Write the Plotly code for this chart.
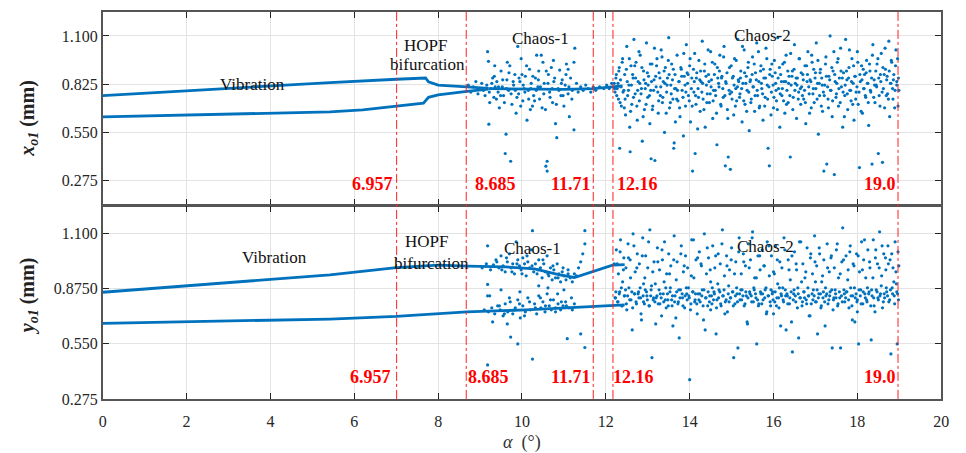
import plotly.graph_objects as go

# ---------------- data ----------------
# top panel (x_o1) periodic branches
top_upper_x = [0, 2, 4, 5.42, 7.0, 7.7, 7.77, 8.0, 8.685, 9.2]
top_upper_y = [0.760, 0.788, 0.815, 0.834, 0.853, 0.860, 0.838, 0.820, 0.810, 0.801]
top_lower_x = [0, 2, 4, 5.42, 6.2, 7.0, 7.65, 7.77, 8.0, 8.685, 9.2]
top_lower_y = [0.639, 0.648, 0.658, 0.667, 0.679, 0.698, 0.717, 0.750, 0.764, 0.784, 0.797]
top_mid_x = [9.2, 10.0, 11.0, 11.7, 12.16, 12.4]
top_mid_y = [0.800, 0.797, 0.795, 0.800, 0.812, 0.815]

# bottom panel (y_o1) periodic branches
bot_upper_x = [0, 2, 4, 5.42, 7.0, 8.0, 8.685, 9.6, 10.3, 10.9, 11.25, 11.71, 12.16, 12.45]
bot_upper_y = [0.808, 0.840, 0.872, 0.895, 0.931, 0.944, 0.939, 0.935, 0.925, 0.895, 0.882, 0.915, 0.944, 0.946]
bot_lower_x = [0, 2, 4, 5.42, 7.0, 8.685, 10.1, 11.25, 12.16, 12.45]
bot_lower_y = [0.653, 0.660, 0.667, 0.674, 0.687, 0.710, 0.720, 0.732, 0.743, 0.745]

# top panel Chaos-1 scatter
top_c1_x = [8.72, 8.78, 8.84, 8.90, 8.95, 9.00, 9.04, 9.08, 9.12, 9.16,
            9.18, 9.20, 9.21, 9.23, 9.26, 9.30, 9.33, 9.36, 9.40, 9.43,
            9.46, 9.50, 9.53, 9.56, 9.60, 9.62, 9.64, 9.68, 9.71, 9.73,
            9.76, 9.80, 9.83, 9.86, 9.90, 9.92, 9.95, 9.98, 10.02, 10.05,
            10.08, 10.12, 10.15, 10.18, 10.22, 10.25, 10.28, 10.32, 10.35, 10.38,
            10.42, 10.46, 10.50, 10.53, 10.56, 10.57, 10.60, 10.60, 10.63, 10.66,
            10.70, 10.73, 10.76, 10.80, 10.83, 10.86, 10.90, 10.93, 10.96, 11.00,
            11.03, 11.06, 11.10, 11.13, 11.16, 11.20, 11.24, 11.24, 11.26, 11.30,
            11.34, 11.40, 11.46, 11.52, 11.58, 11.64, 11.70, 11.76, 11.85, 11.95,
            12.02, 12.08, 12.14, 9.35, 9.65, 10.00, 10.40, 10.75, 11.10, 10.20,
            9.22, 9.28, 9.34, 9.39, 9.44, 9.49, 9.54, 9.58, 9.63, 9.69,
            9.74, 9.79, 9.84, 9.88, 9.93, 9.97, 10.03, 10.07, 10.11, 10.16,
            10.21, 10.26, 10.30, 10.34, 10.39, 10.44, 10.48, 10.52, 10.58, 10.62,
            10.67, 10.72, 10.78, 10.82, 10.88, 10.94, 10.98, 11.05, 11.12, 11.19]
top_c1_y = [0.82, 0.78, 0.81, 0.84, 0.77, 0.80, 0.83, 0.79, 0.76, 0.82,
            1.01, 0.955, 0.597, 0.72, 0.80, 0.86, 0.75, 0.81, 0.84, 0.78,
            0.69, 0.90, 0.81, 0.76, 0.43, 0.54, 0.85, 0.79, 0.93, 0.386,
            0.71, 0.82, 0.88, 0.66, 1.04, 0.77, 0.84, 0.97, 0.73, 0.80,
            0.87, 0.62, 0.79, 0.91, 0.83, 0.70, 0.76, 0.86, 0.99, 0.81,
            0.74, 0.99, 0.95, 0.83, 0.68, 0.358, 0.386, 0.33, 0.88, 0.78,
            0.92, 0.72, 0.84, 0.60, 0.52, 0.80, 0.905, 0.76, 0.85, 0.70,
            0.82, 0.94, 0.77, 0.64, 0.86, 0.79, 0.565, 0.95, 1.03, 0.83,
            0.78, 0.81, 0.79, 0.82, 0.80, 0.78, 0.81, 0.79, 0.81, 0.80,
            0.82, 0.80, 0.83, 0.93, 0.95, 0.88, 0.90, 0.96, 0.91, 0.68,
            0.78, 0.83, 0.87, 0.74, 0.81, 0.76, 0.85, 0.72, 0.80, 0.89,
            0.77, 0.84, 0.79, 0.75, 0.86, 0.70, 0.82, 0.78, 0.93, 0.74,
            0.80, 0.87, 0.73, 0.79, 0.85, 0.81, 0.69, 0.77, 0.90, 0.83,
            0.75, 0.80, 0.86, 0.71, 0.79, 0.83, 0.76, 0.88, 0.81, 0.74]

# top panel Chaos-2 scatter
top_c2_x = [12.20, 12.22, 12.25, 12.27, 12.30, 12.32, 12.35, 12.37, 12.40, 12.43,
            12.45, 12.47, 12.50, 12.52, 12.55, 12.57, 12.60, 12.62, 12.65, 12.67,
            12.70, 12.72, 12.75, 12.77, 12.80, 12.82, 12.85, 12.87, 12.90, 12.92,
            12.95, 12.97, 13.00, 13.02, 13.05, 13.07, 13.10, 13.12, 13.15, 13.17,
            13.20, 13.22, 13.25, 13.27, 13.30, 13.32, 13.35, 13.37, 13.40, 13.42,
            13.45, 13.47, 13.50, 13.52, 13.55, 13.57, 13.60, 13.62, 13.65, 13.67,
            13.70, 13.72, 13.75, 13.77, 13.80, 13.82, 13.85, 13.87, 13.90, 13.92,
            13.95, 13.97, 14.00, 14.02, 14.05, 14.07, 14.10, 14.12, 14.15, 14.17,
            14.20, 14.22, 14.25, 14.27, 14.30, 14.32, 14.35, 14.37, 14.40, 14.42,
            14.45, 14.47, 14.50, 14.52, 14.55, 14.57, 14.60, 14.62, 14.65, 14.67,
            14.70, 14.72, 14.75, 14.77, 14.80, 14.82, 14.85, 14.87, 14.90, 14.92,
            14.95, 14.97, 15.00, 15.02, 15.05, 15.07, 15.10, 15.12, 15.15, 15.17,
            15.20, 15.22, 15.25, 15.27, 15.30, 15.32, 15.35, 15.37, 15.40, 15.42,
            15.45, 15.47, 15.50, 15.52, 15.55, 15.57, 15.60, 15.62, 15.65, 15.67,
            15.70, 15.72, 15.75, 15.77, 15.80, 15.82, 15.85, 15.87, 15.90, 15.92,
            15.95, 15.97, 16.00, 16.02, 16.05, 16.07, 16.10, 16.12, 16.15, 16.17,
            16.20, 16.22, 16.25, 16.27, 16.30, 16.32, 16.35, 16.37, 16.40, 16.42,
            16.45, 16.47, 16.50, 16.52, 16.55, 16.57, 16.60, 16.62, 16.65, 16.67,
            16.70, 16.72, 16.75, 16.77, 16.80, 16.82, 16.85, 16.87, 16.90, 16.92,
            16.95, 16.97, 17.00, 17.02, 17.05, 17.07, 17.10, 17.12, 17.15, 17.17,
            17.20, 17.22, 17.25, 17.27, 17.30, 17.32, 17.35, 17.37, 17.40, 17.42,
            17.45, 17.47, 17.50, 17.52, 17.55, 17.57, 17.60, 17.62, 17.65, 17.67,
            17.70, 17.72, 17.75, 17.77, 17.80, 17.82, 17.85, 17.87, 17.90, 17.92,
            17.95, 17.97, 18.00, 18.02, 18.05, 18.07, 18.10, 18.12, 18.15, 18.17,
            18.20, 18.22, 18.25, 18.27, 18.30, 18.32, 18.35, 18.37, 18.40, 18.42,
            18.45, 18.47, 18.50, 18.52, 18.55, 18.57, 18.60, 18.62, 18.65, 18.67,
            18.70, 18.72, 18.75, 18.77, 18.80, 18.82, 18.85, 18.87, 18.90, 18.92,
            18.94, 18.96, 18.97, 18.98, 18.99, 12.33, 12.58, 13.08, 13.63, 14.13]
top_c2_y = [0.83, 0.78, 0.88, 0.80, 0.74, 0.92, 0.85, 0.70, 0.97, 0.79,
            0.88, 0.65, 1.04, 0.76, 0.82, 0.58, 0.93, 0.71, 0.86, 1.08,
            0.77, 0.95, 0.62, 0.84, 0.73, 0.99, 0.80, 0.50, 0.90, 0.68,
            0.83, 1.06, 0.75, 0.87, 0.60, 0.79, 0.94, 0.70, 0.85, 0.39,
            0.81, 0.97, 0.66, 0.89, 0.76, 1.02, 0.72, 0.84, 0.55, 0.92,
            0.78, 0.86, 1.09, 0.69, 0.82, 0.94, 0.74, 0.46, 0.88, 0.80,
            0.99, 0.73, 0.84, 0.64, 0.91, 0.79, 0.53, 0.87, 0.70, 1.05,
            0.83, 0.76, 0.93, 0.61, 0.86, 0.33, 0.78, 1.00, 0.71, 0.89,
            0.80, 0.96, 0.67, 0.84, 1.07, 0.74, 0.90, 0.58, 0.82, 0.77,
            0.88, 0.72, 1.01, 0.85, 0.63, 0.79, 0.94, 0.76, 0.48, 0.86,
            0.81, 0.99, 0.70, 0.87, 0.75, 1.04, 0.36, 0.83, 0.68, 0.41,
            0.92, 0.34, 0.78, 0.86, 0.65, 0.97, 0.80, 0.73, 1.08, 0.84,
            0.77, 0.90, 0.61, 0.83, 1.02, 0.71, 0.87, 0.79, 0.95, 0.56,
            0.85, 0.74, 0.98, 0.81, 0.67, 0.89, 1.06, 0.76, 0.84, 0.70,
            0.93, 0.80, 0.62, 0.86, 0.75, 1.03, 0.82, 0.46, 0.36, 0.91,
            0.78, 0.87, 0.69, 0.96, 0.83, 0.73, 1.09, 0.80, 0.58, 0.88,
            0.76, 0.94, 0.84, 0.66, 0.99, 0.79, 0.72, 0.87, 0.41, 0.82,
            0.90, 0.75, 1.05, 0.83, 0.63, 0.86, 0.78, 0.97, 0.71, 0.81,
            0.88, 0.74, 0.93, 0.60, 0.84, 1.01, 0.77, 0.85, 0.69, 0.95,
            0.80, 0.72, 0.89, 1.06, 0.83, 0.54, 0.76, 0.91, 0.86, 0.67,
            0.33, 0.82, 0.98, 0.37, 0.74, 0.87, 1.10, 0.79, 0.64, 0.90,
            0.31, 0.84, 0.77, 0.95, 0.70, 0.86, 1.03, 0.81, 0.58, 0.89,
            0.76, 1.08, 0.85, 0.68, 0.92, 0.79, 0.73, 0.97, 0.83, 0.62,
            0.87, 0.78, 1.01, 0.71, 0.35, 0.84, 0.93, 0.66, 0.80, 0.88,
            0.75, 0.96, 0.83, 0.59, 0.90, 0.78, 0.37, 1.05, 0.85, 0.72,
            0.82, 0.94, 0.43, 0.76, 0.88, 1.00, 0.38, 0.80, 0.69, 0.91,
            0.85, 0.77, 1.07, 0.64, 0.83, 0.95, 0.74, 0.88, 0.79, 1.02,
            0.84, 0.97, 0.70, 0.86, 0.79, 0.46, 0.44, 0.40, 0.49, 0.43]

# top panel Chaos-2, dense core points
top_c2b_x = [12.21, 12.24, 12.26, 12.29, 12.31, 12.34, 12.36, 12.39, 12.41, 12.44,
             12.46, 12.49, 12.51, 12.54, 12.56, 12.59, 12.61, 12.64, 12.66, 12.69,
             12.71, 12.74, 12.76, 12.79, 12.81, 12.84, 12.86, 12.89, 12.91, 12.94,
             12.96, 12.99, 13.01, 13.04, 13.06, 13.09, 13.11, 13.14, 13.16, 13.19,
             13.21, 13.24, 13.26, 13.29, 13.31, 13.34, 13.36, 13.39, 13.41, 13.44,
             13.46, 13.49, 13.51, 13.54, 13.56, 13.59, 13.61, 13.64, 13.66, 13.69,
             13.71, 13.74, 13.76, 13.79, 13.81, 13.84, 13.86, 13.89, 13.91, 13.94,
             13.96, 13.99, 14.01, 14.04, 14.06, 14.09, 14.11, 14.14, 14.16, 14.19,
             14.21, 14.24, 14.26, 14.29, 14.31, 14.34, 14.36, 14.39, 14.41, 14.44,
             14.46, 14.49, 14.51, 14.54, 14.56, 14.59, 14.61, 14.64, 14.66, 14.69,
             14.71, 14.74, 14.76, 14.79, 14.81, 14.84, 14.86, 14.89, 14.91, 14.94,
             14.96, 14.99, 15.01, 15.04, 15.06, 15.09, 15.11, 15.14, 15.16, 15.19,
             15.21, 15.24, 15.26, 15.29, 15.31, 15.34, 15.36, 15.39, 15.41, 15.44,
             15.46, 15.49, 15.51, 15.54, 15.56, 15.59, 15.61, 15.64, 15.66, 15.69,
             15.71, 15.74, 15.76, 15.79, 15.81, 15.84, 15.86, 15.89, 15.91, 15.94,
             15.96, 15.99, 16.01, 16.04, 16.06, 16.09, 16.11, 16.14, 16.16, 16.19,
             16.21, 16.24, 16.26, 16.29, 16.31, 16.34, 16.36, 16.39, 16.41, 16.44,
             16.46, 16.49, 16.51, 16.54, 16.56, 16.59, 16.61, 16.64, 16.66, 16.69,
             16.71, 16.74, 16.76, 16.79, 16.81, 16.84, 16.86, 16.89, 16.91, 16.94,
             16.96, 16.99, 17.01, 17.04, 17.06, 17.09, 17.11, 17.14, 17.16, 17.19,
             17.21, 17.24, 17.26, 17.29, 17.31, 17.34, 17.36, 17.39, 17.41, 17.44,
             17.46, 17.49, 17.51, 17.54, 17.56, 17.59, 17.61, 17.64, 17.66, 17.69,
             17.71, 17.74, 17.76, 17.79, 17.81, 17.84, 17.86, 17.89, 17.91, 17.94,
             17.96, 17.99, 18.01, 18.04, 18.06, 18.09, 18.11, 18.14, 18.16, 18.19,
             18.21, 18.24, 18.26, 18.29, 18.31, 18.34, 18.36, 18.39, 18.41, 18.44,
             18.46, 18.49, 18.51, 18.54, 18.56, 18.59, 18.61, 18.64, 18.66, 18.69,
             18.71, 18.74, 18.76, 18.79, 18.81, 18.84, 18.86, 18.89, 18.91, 18.94]
top_c2b_y = [0.80, 0.86, 0.76, 0.83, 0.90, 0.72, 0.81, 0.95, 0.78, 0.69,
             0.74, 0.91, 0.84, 0.79, 0.97, 0.67, 0.82, 0.88, 0.75, 0.93,
             0.86, 0.70, 0.79, 1.01, 0.83, 0.77, 0.92, 0.64, 0.85, 0.80,
             0.71, 0.89, 0.82, 0.76, 0.94, 0.84, 0.68, 0.79, 1.03, 0.87,
             0.93, 0.78, 0.73, 0.86, 0.81, 0.98, 0.75, 0.90, 0.83, 0.66,
             0.82, 0.96, 0.88, 0.72, 0.77, 0.85, 0.91, 0.80, 0.61, 0.74,
             0.79, 0.84, 0.69, 0.92, 0.87, 0.75, 1.00, 0.82, 0.78, 0.89,
             0.88, 0.73, 0.97, 0.80, 0.70, 0.91, 0.84, 0.76, 0.86, 0.57,
             0.75, 0.85, 0.90, 0.78, 0.83, 0.68, 0.94, 0.87, 0.72, 1.02,
             0.84, 0.77, 0.81, 0.95, 0.73, 0.88, 0.79, 0.66, 0.92, 0.83,
             0.90, 0.71, 0.86, 0.80, 0.98, 0.76, 0.84, 0.89, 0.63, 0.79,
             0.77, 0.93, 0.74, 0.87, 0.82, 0.70, 0.96, 0.81, 0.85, 0.75,
             0.86, 0.80, 1.04, 0.73, 0.89, 0.83, 0.67, 0.92, 0.78, 0.84,
             0.72, 0.88, 0.81, 0.94, 0.76, 0.85, 0.79, 1.01, 0.69, 0.90,
             0.83, 0.77, 0.91, 0.70, 0.86, 0.97, 0.74, 0.81, 0.88, 0.65,
             0.94, 0.82, 0.75, 0.89, 0.79, 0.68, 0.86, 0.92, 0.77, 0.84,
             0.80, 0.73, 0.95, 0.84, 0.71, 0.90, 0.83, 0.76, 1.00, 0.87,
             0.68, 0.91, 0.79, 0.86, 0.82, 0.74, 0.97, 0.80, 0.89, 0.76,
             0.85, 0.79, 0.72, 0.93, 0.88, 0.81, 0.66, 0.84, 0.99, 0.77,
             0.91, 0.86, 0.80, 0.74, 0.96, 0.83, 0.89, 0.70, 0.82, 0.78,
             0.76, 0.94, 0.87, 0.81, 0.69, 0.85, 0.79, 0.92, 0.73, 1.01,
             0.88, 0.75, 0.83, 0.97, 0.80, 0.72, 0.90, 0.86, 0.78, 0.64,
             0.82, 0.90, 0.77, 0.86, 1.02, 0.79, 0.84, 0.71, 0.93, 0.87,
             0.74, 0.81, 0.95, 0.78, 0.88, 0.67, 0.85, 0.91, 0.80, 0.76,
             0.89, 0.83, 0.72, 0.94, 0.79, 0.86, 0.99, 0.75, 0.82, 0.90,
             0.81, 0.97, 0.86, 0.70, 0.84, 0.78, 0.92, 0.88, 1.03, 0.76,
             0.87, 0.74, 0.90, 0.83, 0.96, 0.80, 0.85, 0.69, 0.93, 0.82]

# bottom panel Chaos-1 scatter
bot_c1_x = [9.05, 9.15, 9.18, 9.18, 9.18, 9.25, 9.32, 9.38, 9.45, 9.50,
            9.55, 9.60, 9.65, 9.70, 9.74, 9.78, 9.82, 9.86, 9.90, 9.94,
            9.98, 10.02, 10.06, 10.10, 10.14, 10.18, 10.22, 10.25, 10.28, 10.32,
            10.36, 10.40, 10.44, 10.48, 10.52, 10.56, 10.60, 10.64, 10.68, 10.72,
            10.76, 10.80, 10.84, 10.88, 10.92, 10.96, 11.00, 11.05, 11.10, 11.15,
            11.20, 11.25, 11.30, 11.35, 11.40, 11.45, 11.50, 11.50, 9.73, 9.90,
            9.10, 9.20, 9.28, 9.35, 9.42, 9.48, 9.55, 9.60, 9.66, 9.72,
            9.78, 9.84, 9.90, 9.96, 10.02, 10.08, 10.14, 10.20, 10.25, 10.30,
            10.35, 10.40, 10.45, 10.50, 10.55, 10.60, 10.65, 10.70, 10.75, 10.80,
            10.86, 10.92, 10.98, 11.04, 11.08, 11.12, 11.18, 11.25, 11.40, 11.50,
            9.23, 9.30, 9.50, 9.95, 10.40, 10.62, 10.85, 11.00, 9.18, 9.65,
            9.40, 9.52, 9.63, 9.76, 9.88, 10.00, 10.12, 10.24, 10.38, 10.50,
            10.62, 10.74, 10.86, 10.98, 11.10, 9.46, 9.58, 9.70, 9.82, 9.94,
            10.06, 10.18, 10.32, 10.44, 10.56, 10.68, 10.80, 10.94, 11.06, 11.20]
bot_c1_y = [0.93, 0.95, 1.04, 0.847, 0.445, 0.92, 0.945, 0.97, 0.93, 0.99,
            0.94, 0.91, 0.96, 1.00, 0.93, 0.95, 0.90, 1.06, 0.97, 0.94,
            0.92, 0.98, 0.95, 0.89, 0.96, 0.93, 1.02, 1.116, 0.91, 0.95,
            0.90, 0.97, 0.93, 0.88, 0.95, 0.91, 0.99, 0.89, 0.93, 0.87,
            0.92, 0.88, 0.95, 0.90, 0.86, 0.91, 0.89, 0.87, 0.92, 0.88,
            0.86, 0.90, 0.89, 0.93, 0.96, 1.00, 1.116, 1.05, 0.584, 0.55,
            0.72, 0.71, 0.73, 0.70, 0.74, 0.72, 0.69, 0.75, 0.71, 0.76,
            0.70, 0.73, 0.77, 0.68, 0.74, 0.71, 0.78, 0.72, 0.474, 0.75,
            0.70, 0.79, 0.73, 0.76, 0.71, 0.80, 0.74, 0.72, 0.77, 0.73,
            0.75, 0.72, 0.74, 0.76, 0.576, 0.73, 0.78, 0.75, 0.60, 0.532,
            0.79, 0.66, 0.82, 0.81, 0.84, 0.83, 0.80, 0.82, 0.79, 0.65,
            0.96, 0.92, 0.98, 0.91, 0.95, 0.90, 0.99, 0.94, 0.92, 0.97,
            0.90, 0.94, 0.88, 0.93, 0.90, 0.74, 0.70, 0.78, 0.72, 0.75,
            0.69, 0.76, 0.73, 0.78, 0.74, 0.77, 0.71, 0.76, 0.74, 0.72]

# bottom panel Chaos-2 scatter
bot_c2_x = [12.20, 12.23, 12.25, 12.28, 12.30, 12.33, 12.35, 12.38, 12.40, 12.43,
            12.45, 12.48, 12.50, 12.53, 12.55, 12.58, 12.60, 12.63, 12.65, 12.68,
            12.70, 12.73, 12.75, 12.78, 12.80, 12.83, 12.85, 12.88, 12.90, 12.93,
            12.95, 12.98, 13.00, 13.03, 13.05, 13.08, 13.10, 13.13, 13.15, 13.18,
            13.20, 13.23, 13.25, 13.28, 13.30, 13.33, 13.35, 13.38, 13.40, 13.43,
            13.45, 13.48, 13.50, 13.53, 13.55, 13.58, 13.60, 13.63, 13.65, 13.68,
            13.70, 13.73, 13.75, 13.78, 13.80, 13.83, 13.85, 13.88, 13.90, 13.93,
            13.95, 13.98, 14.00, 14.03, 14.05, 14.08, 14.10, 14.13, 14.15, 14.18,
            14.20, 14.23, 14.25, 14.28, 14.30, 14.33, 14.35, 14.38, 14.40, 14.43,
            14.45, 14.48, 14.50, 14.53, 14.55, 14.58, 14.60, 14.63, 14.65, 14.68,
            14.70, 14.73, 14.75, 14.78, 14.80, 14.83, 14.85, 14.88, 14.90, 14.93,
            14.95, 14.98, 15.00, 15.03, 15.05, 15.08, 15.10, 15.13, 15.15, 15.18,
            15.20, 15.23, 15.25, 15.28, 15.30, 15.33, 15.35, 15.38, 15.40, 15.43,
            15.45, 15.48, 15.50, 15.53, 15.55, 15.58, 15.60, 15.63, 15.65, 15.68,
            15.70, 15.73, 15.75, 15.78, 15.80, 15.83, 15.85, 15.88, 15.90, 15.93,
            15.95, 15.98, 16.00, 16.03, 16.05, 16.08, 16.10, 16.13, 16.15, 16.18,
            16.20, 16.23, 16.25, 16.28, 16.30, 16.33, 16.35, 16.38, 16.40, 16.43,
            16.45, 16.48, 16.50, 16.53, 16.55, 16.58, 16.60, 16.63, 16.65, 16.68,
            16.70, 16.73, 16.75, 16.78, 16.80, 16.83, 16.85, 16.88, 16.90, 16.93,
            16.95, 16.98, 17.00, 17.03, 17.05, 17.08, 17.10, 17.13, 17.15, 17.18,
            17.20, 17.23, 17.25, 17.28, 17.30, 17.33, 17.35, 17.38, 17.40, 17.43,
            17.45, 17.48, 17.50, 17.53, 17.55, 17.58, 17.60, 17.63, 17.65, 17.68,
            17.70, 17.73, 17.75, 17.78, 17.80, 17.83, 17.85, 17.88, 17.90, 17.93,
            17.95, 17.98, 18.00, 18.03, 18.05, 18.08, 18.10, 18.13, 18.15, 18.18,
            18.20, 18.23, 18.25, 18.28, 18.30, 18.33, 18.35, 18.38, 18.40, 18.43,
            18.45, 18.48, 18.50, 18.53, 18.55, 18.58, 18.60, 18.63, 18.65, 18.68,
            18.70, 18.73, 18.75, 18.78, 18.80, 18.83, 18.85, 18.88, 18.90, 18.93,
            18.95, 18.96, 18.97, 18.98, 18.99, 12.90, 14.50, 16.00, 17.00, 18.00]
bot_c2_y = [0.95, 0.78, 1.02, 0.76, 0.90, 0.81, 1.07, 0.74, 0.86, 0.98,
            0.79, 0.93, 0.72, 1.05, 0.83, 0.97, 0.77, 0.62, 1.10, 0.80,
            0.91, 0.75, 1.00, 0.81, 0.95, 0.78, 0.67, 1.08, 0.76, 0.88,
            0.99, 0.79, 0.93, 0.74, 1.12, 0.82, 0.481, 0.77, 0.96, 0.85,
            0.78, 1.03, 0.75, 0.92, 0.80, 0.69, 0.97, 0.76, 1.06, 0.83,
            0.90, 0.77, 1.00, 0.81, 0.94, 0.74, 0.64, 1.09, 0.79, 0.87,
            0.96, 0.76, 0.58, 0.82, 1.04, 0.78, 0.91, 0.73, 0.99, 0.80,
            0.93, 0.79, 0.371, 0.75, 1.07, 0.81, 0.88, 0.77, 0.97, 0.70,
            0.80, 1.01, 0.76, 0.94, 0.82, 0.67, 1.10, 0.78, 0.90, 0.74,
            0.98, 0.79, 0.86, 0.75, 1.04, 0.81, 0.93, 0.60, 0.77, 1.00,
            0.82, 0.95, 0.74, 1.12, 0.79, 0.89, 0.76, 0.99, 0.71, 0.84,
            0.92, 0.78, 1.03, 0.81, 0.481, 0.75, 0.96, 0.80, 0.53, 1.08,
            0.77, 0.90, 0.82, 1.00, 0.74, 0.94, 0.79, 0.65, 1.05, 0.81,
            0.97, 0.76, 1.11, 0.83, 0.88, 0.78, 0.55, 0.99, 0.75, 0.92,
            0.80, 1.02, 0.77, 0.94, 0.82, 0.70, 1.06, 0.79, 0.89, 0.74,
            0.99, 0.81, 0.91, 0.76, 1.04, 0.78, 0.85, 0.73, 0.96, 0.80,
            0.93, 0.77, 1.08, 0.82, 0.62, 0.79, 0.97, 0.75, 0.87, 0.66,
            0.51, 0.80, 1.01, 0.76, 0.92, 0.83, 0.58, 0.78, 1.06, 0.74,
            0.95, 0.81, 0.88, 0.77, 1.03, 0.79, 0.69, 0.98, 0.75, 0.90,
            0.82, 1.09, 0.76, 0.94, 0.60, 0.80, 1.00, 0.73, 0.86, 0.78,
            0.97, 0.64, 0.79, 1.05, 0.75, 0.91, 0.81, 0.99, 0.53, 0.77,
            0.93, 0.80, 1.02, 0.74, 0.88, 0.78, 0.53, 0.96, 1.13, 0.82,
            0.76, 0.99, 0.81, 0.92, 0.73, 1.04, 0.79, 0.67, 0.95, 0.83,
            0.78, 1.00, 0.77, 0.55, 0.91, 0.82, 1.06, 0.75, 0.97, 0.80,
            0.88, 0.76, 1.02, 0.81, 0.93, 0.57, 0.79, 1.07, 0.74, 0.98,
            0.82, 0.95, 0.77, 1.11, 0.80, 0.89, 0.73, 1.00, 0.78, 0.92,
            0.81, 1.04, 0.76, 0.97, 0.50, 0.83, 0.93, 0.79, 1.06, 0.85,
            0.55, 0.80, 1.01, 0.77, 0.94, 0.85, 0.72, 0.70, 0.86, 0.71]

# bottom panel Chaos-2, dense band points
bot_c2b_x = [12.22, 12.24, 12.27, 12.29, 12.32, 12.34, 12.37, 12.39, 12.42, 12.44,
             12.47, 12.49, 12.52, 12.54, 12.57, 12.59, 12.62, 12.64, 12.67, 12.69,
             12.72, 12.74, 12.77, 12.79, 12.82, 12.84, 12.87, 12.89, 12.92, 12.94,
             12.97, 12.99, 13.02, 13.04, 13.07, 13.09, 13.12, 13.14, 13.17, 13.19,
             13.22, 13.24, 13.27, 13.29, 13.32, 13.34, 13.37, 13.39, 13.42, 13.44,
             13.47, 13.49, 13.52, 13.54, 13.57, 13.59, 13.62, 13.64, 13.67, 13.69,
             13.72, 13.74, 13.77, 13.79, 13.82, 13.84, 13.87, 13.89, 13.92, 13.94,
             13.97, 13.99, 14.02, 14.04, 14.07, 14.09, 14.12, 14.14, 14.17, 14.19,
             14.22, 14.24, 14.27, 14.29, 14.32, 14.34, 14.37, 14.39, 14.42, 14.44,
             14.47, 14.49, 14.52, 14.54, 14.57, 14.59, 14.62, 14.64, 14.67, 14.69,
             14.72, 14.74, 14.77, 14.79, 14.82, 14.84, 14.87, 14.89, 14.92, 14.94,
             14.97, 14.99, 15.02, 15.04, 15.07, 15.09, 15.12, 15.14, 15.17, 15.19,
             15.22, 15.24, 15.27, 15.29, 15.32, 15.34, 15.37, 15.39, 15.42, 15.44,
             15.47, 15.49, 15.52, 15.54, 15.57, 15.59, 15.62, 15.64, 15.67, 15.69,
             15.72, 15.74, 15.77, 15.79, 15.82, 15.84, 15.87, 15.89, 15.92, 15.94,
             15.97, 15.99, 16.02, 16.04, 16.07, 16.09, 16.12, 16.14, 16.17, 16.19,
             16.22, 16.24, 16.27, 16.29, 16.32, 16.34, 16.37, 16.39, 16.42, 16.44,
             16.47, 16.49, 16.52, 16.54, 16.57, 16.59, 16.62, 16.64, 16.67, 16.69,
             16.72, 16.74, 16.77, 16.79, 16.82, 16.84, 16.87, 16.89, 16.92, 16.94,
             16.97, 16.99, 17.02, 17.04, 17.07, 17.09, 17.12, 17.14, 17.17, 17.19,
             17.22, 17.24, 17.27, 17.29, 17.32, 17.34, 17.37, 17.39, 17.42, 17.44,
             17.47, 17.49, 17.52, 17.54, 17.57, 17.59, 17.62, 17.64, 17.67, 17.69,
             17.72, 17.74, 17.77, 17.79, 17.82, 17.84, 17.87, 17.89, 17.92, 17.94,
             17.97, 17.99, 18.02, 18.04, 18.07, 18.09, 18.12, 18.14, 18.17, 18.19,
             18.22, 18.24, 18.27, 18.29, 18.32, 18.34, 18.37, 18.39, 18.42, 18.44,
             18.47, 18.49, 18.52, 18.54, 18.57, 18.59, 18.62, 18.64, 18.67, 18.69,
             18.72, 18.74, 18.77, 18.79, 18.82, 18.84, 18.87, 18.89, 18.92, 18.94]
bot_c2b_y = [0.78, 0.81, 0.95, 0.76, 0.80, 1.01, 0.83, 0.74, 0.92, 0.79,
             0.82, 0.75, 0.79, 0.98, 0.77, 0.88, 0.81, 0.73, 1.04, 0.80,
             0.76, 0.93, 0.80, 0.78, 0.83, 0.70, 0.99, 0.79, 0.75, 0.82,
             0.81, 0.77, 1.06, 0.74, 0.79, 0.84, 0.91, 0.78, 0.76, 0.65,
             0.79, 0.96, 0.82, 0.75, 0.78, 1.02, 0.80, 0.86, 0.77, 0.73,
             0.80, 0.74, 0.90, 0.83, 0.77, 0.79, 0.97, 0.76, 0.68, 0.81,
             0.75, 0.82, 0.78, 1.00, 0.80, 0.74, 0.94, 0.79, 0.83, 0.77,
             0.83, 0.78, 0.72, 0.89, 0.81, 1.07, 0.76, 0.80, 0.75, 0.98,
             0.77, 0.80, 0.95, 0.79, 0.74, 0.82, 0.62, 0.78, 1.03, 0.81,
             0.76, 0.92, 0.79, 0.83, 0.77, 0.80, 0.99, 0.73, 0.85, 0.78,
             0.81, 0.75, 1.05, 0.79, 0.82, 0.70, 0.77, 0.94, 0.80, 0.76,
             0.78, 0.97, 0.81, 0.74, 0.90, 0.79, 0.83, 0.76, 1.01, 0.80,
             0.82, 0.77, 0.79, 0.96, 0.75, 0.81, 0.66, 0.78, 0.93, 0.80,
             0.79, 1.08, 0.76, 0.82, 0.80, 0.88, 0.77, 0.74, 0.99, 0.81,
             0.75, 0.80, 0.94, 0.78, 0.83, 0.71, 0.79, 1.04, 0.76, 0.82,
             0.80, 0.77, 0.90, 0.81, 0.74, 0.97, 0.78, 0.83, 0.64, 0.79,
             0.83, 0.76, 1.02, 0.79, 0.80, 0.75, 0.92, 0.78, 0.81, 0.99,
             0.77, 0.82, 0.79, 0.95, 0.73, 0.80, 1.06, 0.78, 0.86, 0.76,
             0.81, 0.78, 0.91, 0.75, 0.83, 0.79, 0.69, 1.00, 0.80, 0.77,
             0.79, 0.96, 0.76, 0.82, 0.78, 1.03, 0.80, 0.74, 0.89, 0.81,
             0.76, 0.83, 0.80, 0.93, 0.77, 0.79, 0.98, 0.82, 0.72, 0.78,
             0.82, 0.78, 1.05, 0.75, 0.81, 0.90, 0.79, 0.76, 0.97, 0.80,
             0.78, 0.81, 0.87, 0.77, 1.01, 0.83, 0.74, 0.79, 0.94, 0.66,
             0.80, 0.76, 0.99, 0.82, 0.79, 0.75, 0.92, 0.81, 1.07, 0.78,
             0.77, 0.83, 0.80, 0.96, 0.74, 0.82, 0.88, 0.78, 0.71, 1.02,
             0.81, 0.78, 0.93, 0.79, 0.84, 1.04, 0.76, 0.80, 0.98, 0.83,
             0.79, 0.95, 0.77, 0.82, 1.00, 0.80, 0.86, 0.75, 0.91, 0.81]

# critical angles (labels) and positions of the dash-dot markers
crit_labels = ["6.957", "8.685", "11.71", "12.16", "19.0"]
crit_lines = [7.01, 8.67, 11.70, 12.17, 18.97]
crit_text_x_top = [6.43, 9.37, 11.17, 12.75, 18.53]
crit_text_x_bot = [6.39, 9.20, 11.17, 12.67, 18.55]

x_ticks = [0, 2, 4, 6, 8, 10, 12, 14, 16, 18, 20]
y_ticks = [0.275, 0.55, 0.825, 1.1]
y_ticktext_top = ["0.275", "0.550", "0.825", "1.100"]
y_ticktext_bot = ["0.275", "0.550", "0.8750", "1.100"]

# ---------------- figure ----------------
W, H = 966, 453
BLUE = "#0072BD"
SERIF = "Liberation Serif"

fig = go.Figure()

def add_line(x, y, xa, ya):
    fig.add_trace(go.Scatter(x=x, y=y, mode="lines", xaxis=xa, yaxis=ya,
                             line=dict(color=BLUE, width=2.8), hoverinfo="skip",
                             showlegend=False))

def add_pts(x, y, xa, ya):
    fig.add_trace(go.Scatter(x=x, y=y, mode="markers", xaxis=xa, yaxis=ya,
                             marker=dict(color=BLUE, size=3.2, line=dict(width=0)),
                             hoverinfo="skip", showlegend=False))

add_line(top_upper_x, top_upper_y, "x", "y")
add_line(top_lower_x, top_lower_y, "x", "y")
add_line(top_mid_x, top_mid_y, "x", "y")
add_pts(top_c1_x, top_c1_y, "x", "y")
add_pts(top_c2_x, top_c2_y, "x", "y")
add_pts(top_c2b_x, top_c2b_y, "x", "y")

add_line(bot_upper_x, bot_upper_y, "x2", "y2")
add_line(bot_lower_x, bot_lower_y, "x2", "y2")
add_pts(bot_c1_x, bot_c1_y, "x2", "y2")
add_pts(bot_c2_x, bot_c2_y, "x2", "y2")
add_pts(bot_c2b_x, bot_c2b_y, "x2", "y2")

xdom = [100 / W, 949 / W]
ydom_top = [(H - 209) / H, (H - 12) / H]
ydom_bot = [(H - 407) / H, (H - 210.5) / H]

tickfont = dict(family=SERIF, size=16, color="#262626")
common_x = dict(range=[0, 20], tickvals=x_ticks, ticks="inside", ticklen=6,
                tickcolor="#222", showline=True, linecolor="#555", linewidth=1.5,
                mirror="ticks", showgrid=True, gridcolor="#e3e3e3", gridwidth=1,
                zeroline=False, domain=xdom, tickfont=tickfont)
common_y = dict(tickvals=y_ticks, ticks="inside", ticklen=6, tickcolor="#222",
                showline=True, linecolor="#555", linewidth=1.5, mirror="ticks",
                showgrid=True, gridcolor="#e3e3e3", gridwidth=1, zeroline=False,
                tickfont=tickfont)

fig.update_layout(
    width=W, height=H, margin=dict(l=0, r=0, t=0, b=0),
    paper_bgcolor="white", plot_bgcolor="white", showlegend=False,
    xaxis=dict(common_x, anchor="y", showticklabels=False),
    yaxis=dict(common_y, domain=ydom_top, range=[0.1375, 1.2375],
               ticktext=y_ticktext_top, anchor="x"),
    xaxis2=dict(common_x, anchor="y2", ticklabelstandoff=7),
    yaxis2=dict(common_y, domain=ydom_bot, range=[0.275, 1.2375],
                ticktext=y_ticktext_bot, anchor="x2"),
)

# red dash-dot critical lines
for xv in crit_lines:
    fig.add_shape(type="line", xref="x", yref="paper", x0=xv, x1=xv,
                  y0=ydom_bot[0], y1=ydom_top[1],
                  line=dict(color="#FF2020", width=1, dash="dashdot"))

ann = []
redfont = dict(family=SERIF, size=18, color="#FF0000")
for lab, xt in zip(crit_labels, crit_text_x_top):
    ann.append(dict(x=xt, y=0.258, xref="x", yref="y", text="<b>%s</b>" % lab,
                    showarrow=False, font=redfont, xanchor="center", yanchor="middle"))
for lab, xb in zip(crit_labels, crit_text_x_bot):
    ann.append(dict(x=xb, y=0.386, xref="x2", yref="y2", text="<b>%s</b>" % lab,
                    showarrow=False, font=redfont, xanchor="center", yanchor="middle"))

txtfont = dict(family=SERIF, size=17, color="#111")
for (t, xv, yv, xr, yr) in [
    ("Vibration", 3.58, 0.825, "x", "y"),
    ("HOPF", 7.70, 1.045, "x", "y"),
    ("bifurcation", 7.75, 0.936, "x", "y"),
    ("Chaos-1", 10.43, 1.085, "x", "y"),
    ("Chaos-2", 15.73, 1.105, "x", "y"),
    ("Vibration", 4.10, 0.980, "x2", "y2"),
    ("HOPF", 7.72, 1.060, "x2", "y2"),
    ("bifurcation", 7.83, 0.953, "x2", "y2"),
    ("Chaos-1", 10.24, 1.028, "x2", "y2"),
    ("Chaos-2", 15.82, 1.037, "x2", "y2"),
]:
    ann.append(dict(x=xv, y=yv, xref=xr, yref=yr, text=t, showarrow=False,
                    font=txtfont, xanchor="center", yanchor="middle"))

# axis titles
titlefont = dict(family=SERIF, size=20, color="#222")
ann.append(dict(x=24.5 / W, y=(H - 121) / H, xref="paper", yref="paper",
                text="<b><i>x</i></b><sub><b><i>o1</i></b></sub><b> (mm)</b>",
                textangle=-90, showarrow=False, font=titlefont,
                xanchor="center", yanchor="middle"))
ann.append(dict(x=24.5 / W, y=(H - 302) / H, xref="paper", yref="paper",
                text="<b><i>y</i></b><sub><b><i>o1</i></b></sub><b> (mm)</b>",
                textangle=-90, showarrow=False, font=titlefont,
                xanchor="center", yanchor="middle"))
ann.append(dict(x=525 / W, y=(H - 451) / H, xref="paper", yref="paper",
                text="<i>α</i>  (°)", showarrow=False,
                font=dict(family=SERIF, size=18, color="#333"),
                xanchor="center", yanchor="middle"))

fig.update_layout(annotations=ann)
fig.write_html("out.html")
